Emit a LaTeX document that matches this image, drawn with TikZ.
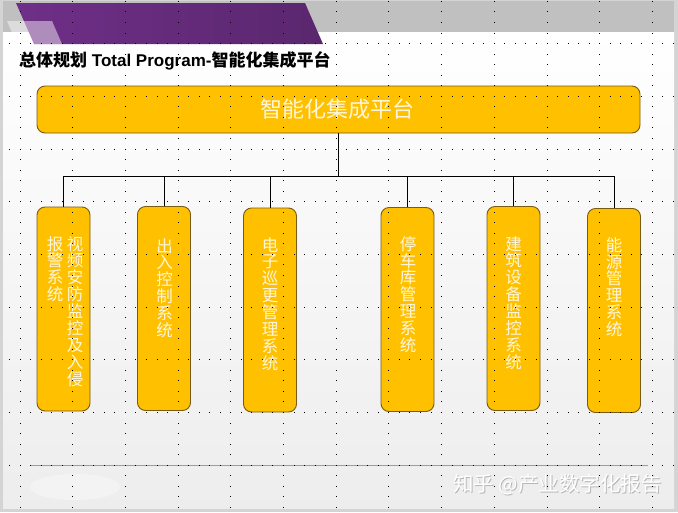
\documentclass[tikz,border=0pt]{standalone}
\usepackage{fontspec}
\setmainfont{Liberation Sans}
\newfontfamily\cjk{Noto Sans CJK SC}
\definecolor{amber}{HTML}{FFC000}
\definecolor{amberedge}{HTML}{7A5C10}
\definecolor{cream}{HTML}{FFF6DA}
\definecolor{purpL}{HTML}{6F2F88}
\definecolor{purpR}{HTML}{5A276E}
\definecolor{bandgray}{HTML}{C0C0C0}
\definecolor{framegray}{HTML}{D4D4D4}
\tikzset{
  sysbox/.style={draw=amberedge, line width=0.9pt, fill=amber, rounded corners=8pt,
    minimum width=53pt, minimum height=204pt, inner sep=0pt},
  topbox/.style={draw=amberedge, line width=0.9pt, fill=amber, rounded corners=8pt,
    minimum width=603pt, minimum height=47pt, inner sep=0pt},
  vtext/.style={anchor=north, align=center, inner sep=0pt, text=cream,
    font=\cjk\fontsize{16.5}{16.9}\selectfont},
  conn/.style={draw=black, line width=0.8pt},
  gdot/.style={fill=black}
}
\begin{document}
\begin{tikzpicture}[x=1pt,y=-1pt]
\useasboundingbox (0,0) rectangle (678,512);
% frame and slide background
\fill[framegray] (0,0) rectangle (678,512);
\shade[top color=white, bottom color=white!93!black] (3,32) rectangle (674,508);
\fill[bandgray] (3,1) rectangle (674,32);
% purple banner
\shade[left color=purpL, right color=purpR] (16,3) -- (305,3) -- (323,44) -- (34,44) -- cycle;
\fill[white, opacity=0.45] (7,21) -- (52,21) -- (62,44) -- (17,44) -- cycle;
% title
\node[anchor=west, inner sep=0pt] (title) at (19,61)
  {\fontsize{17}{17}\selectfont\bfseries{\cjk 总体规划} Total Program-{\cjk 智能化集成平台}};
% top box
\node[topbox] (top) at (338.5,109.5) {};
\node[inner sep=0pt, text=cream, font=\cjk\fontsize{22}{22}\selectfont] (toptxt) at (337.5,109) {智能化集成平台};
% system boxes
\node[sysbox] (b1) at (63.5,309) {};
\node[sysbox] (b2) at (164,308.5) {};
\node[sysbox] (b3) at (270,310) {};
\node[sysbox] (b4) at (407.5,309.5) {};
\node[sysbox] (b5) at (513.5,308.5) {};
\node[sysbox] (b6) at (614,310.5) {};
% connectors
\coordinate (busy) at (0,176);
\draw[conn] (top.south) -- (top.south |- busy);
\draw[conn] (b1.north |- busy) -- (b6.north |- busy);
\foreach \b in {b1,b2,b3,b4,b5,b6} \draw[conn] (\b.north) -- (\b.north |- busy);
% vertical texts
\node[vtext] (t1a) at (75,236) {视\\频\\安\\防\\监\\控\\及\\入\\侵};
\node[vtext] (t1b) at (55,236) {报\\警\\系\\统};
\node[vtext] (t2) at (164.5,238) {出\\入\\控\\制\\系\\统};
\node[vtext] (t3) at (270,237) {电\\子\\巡\\更\\管\\理\\系\\统};
\node[vtext] (t4) at (408,236) {停\\车\\库\\管\\理\\系\\统};
\node[vtext] (t5) at (513.5,236) {建\\筑\\设\\备\\监\\控\\系\\统};
\node[vtext] (t6) at (614,237) {能\\源\\管\\理\\系\\统};
% bottom rule
\draw[draw=white!62!black, line width=1.4pt] (30,465.5) -- (648,465.5);
\fill[white, opacity=0.35] (75,487) ellipse (45 and 13);
% watermark
\node[anchor=east, inner sep=0pt, text=white!72!black, font=\cjk\fontsize{20.5}{21}\selectfont] (wm0) at (662.7,485.7) {知乎 @产业数字化报告};
\node[anchor=east, inner sep=0pt, text=white, font=\cjk\fontsize{20.5}{21}\selectfont] (wm) at (662,485) {知乎 @产业数字化报告};
% grid dots
\foreach \i in {0,...,12} {
  \foreach \j in {0,...,48} {
    \fill[gdot] ({20+52.7*\i-0.5},{1.44+10.54*\j-0.5}) rectangle ++(1,1);
  }
}
\foreach \j in {0,...,8} {
  \foreach \i in {0,...,63} {
    \fill[gdot] ({9.46+10.54*\i-0.5},{43.6+52.7*\j-0.5}) rectangle ++(1,1);
  }
}
\end{tikzpicture}
\end{document}
